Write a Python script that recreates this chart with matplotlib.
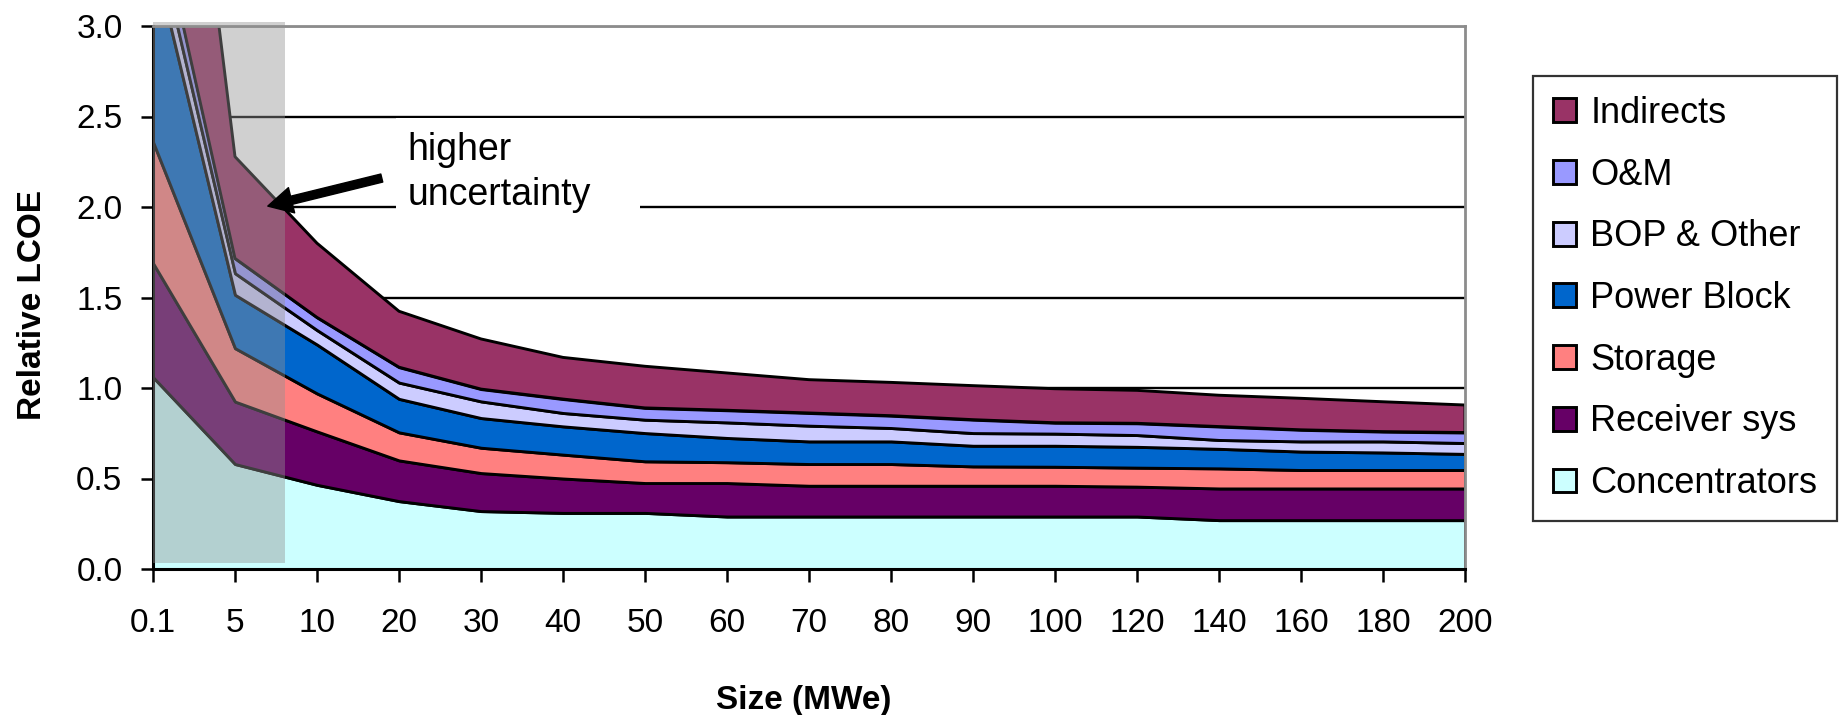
import numpy as np
import matplotlib
matplotlib.use("Agg")
import matplotlib.pyplot as plt
from matplotlib.patches import Rectangle

plt.rcParams["font.family"] = ["Liberation Sans", "DejaVu Sans"]

# plant size categories (MWe)
sizes = ["0.1", "5", "10", "20", "30", "40", "50", "60", "70", "80",
         "90", "100", "120", "140", "160", "180", "200"]

# relative LCOE contribution of each cost component (stacked bottom -> top)
concentrators = [1.06, 0.58, 0.465, 0.375, 0.32, 0.31, 0.31, 0.29, 0.29, 0.29,
                 0.29, 0.29, 0.29, 0.27, 0.27, 0.27, 0.27]
receiver_sys = [0.63, 0.345, 0.295, 0.225, 0.21, 0.19, 0.165, 0.185, 0.17, 0.17,
                0.17, 0.17, 0.165, 0.175, 0.175, 0.175, 0.175]
storage = [0.67, 0.295, 0.21, 0.155, 0.14, 0.132, 0.12, 0.115, 0.12, 0.12,
           0.107, 0.105, 0.105, 0.111, 0.102, 0.102, 0.102]
power_block = [1.04, 0.295, 0.27, 0.185, 0.164, 0.156, 0.156, 0.134, 0.125, 0.125,
               0.114, 0.116, 0.115, 0.108, 0.102, 0.097, 0.089]
bop_other = [0.17, 0.119, 0.08, 0.09, 0.092, 0.074, 0.074, 0.086, 0.087, 0.074,
             0.07, 0.067, 0.065, 0.049, 0.056, 0.061, 0.06]
o_and_m = [0.18, 0.082, 0.07, 0.085, 0.068, 0.077, 0.065, 0.067, 0.07, 0.068,
           0.074, 0.06, 0.065, 0.074, 0.064, 0.054, 0.058]
indirects = [2.22, 0.562, 0.41, 0.309, 0.277, 0.23, 0.23, 0.206, 0.184, 0.184,
             0.188, 0.188, 0.182, 0.173, 0.174, 0.165, 0.152]

names = ["Concentrators", "Receiver sys", "Storage", "Power Block",
         "BOP & Other", "O&M", "Indirects"]
colors = ["#CCFFFF", "#660066", "#FF8080", "#0066CC",
          "#CCCCFF", "#9999FF", "#993366"]

W, H = 1840, 715
fig = plt.figure(figsize=(W / 100, H / 100), dpi=100)
ax = fig.add_axes([153 / W, 1 - 569 / H, 1312 / W, 543 / H])

x = np.arange(len(sizes))
polys = ax.stackplot(x, concentrators, receiver_sys, storage, power_block,
                     bop_other, o_and_m, indirects, colors=colors,
                     labels=names, edgecolor="black", linewidth=2.1, zorder=2)

ax.set_xlim(0, len(sizes) - 1)
ax.set_ylim(0, 3)
ax.set_xticks(x)
ax.set_xticklabels(sizes)
yt = np.arange(0, 3.01, 0.5)
ax.set_yticks(yt)
ax.set_yticklabels([f"{v:.1f}" for v in yt])
ax.tick_params(axis="both", direction="out", length=9, width=1.8,
               labelsize=24, color="black")
ax.tick_params(axis="x", pad=19)
ax.tick_params(axis="y", pad=13)

ax.set_axisbelow(True)
ax.yaxis.grid(True, color="black", linewidth=1.7)
for s in ("left", "bottom"):
    ax.spines[s].set_linewidth(2.2)
    ax.spines[s].set_color("black")
for s in ("top", "right"):
    ax.spines[s].set_linewidth(2.0)
    ax.spines[s].set_color("#8C8C8C")

ax.text(-0.092, 0.486, "Relative LCOE", transform=ax.transAxes, rotation=90,
        ha="center", va="center", fontsize=24, fontweight="bold")
fig.text(804 / W, 1 - 700 / H, "Size (MWe)", ha="center", va="center",
         fontsize=24, fontweight="bold")

# shaded zone for the small-plant range
ax.add_patch(Rectangle((0, 0.033), 1.61, 2.99, facecolor="#929292", alpha=0.43,
                       edgecolor="none", zorder=5, clip_on=False))

# annotation with a white backing that hides the gridline behind it
ax.add_patch(Rectangle((2.96, 1.96), 2.98, 0.53, facecolor="white",
                       edgecolor="none", zorder=1.5))
ax.text(3.1, 2.19, "higher\nuncertainty", fontsize=27, ha="left", va="center",
        linespacing=1.3, zorder=6)
ax.annotate("", xy=(1.40, 2.005), xytext=(2.79, 2.16),
            arrowprops=dict(arrowstyle="simple,head_length=0.8,head_width=0.85,tail_width=0.27",
                            fc="black", ec="black", mutation_scale=22,
                            shrinkA=0, shrinkB=0),
            zorder=6)

handles = list(polys)[::-1]
leg = fig.legend(handles, names[::-1], loc="upper left",
                 bbox_to_anchor=(1533 / W, 1 - 76 / H), fontsize=26,
                 frameon=True, fancybox=False, edgecolor="black",
                 handlelength=0.64, handleheight=0.64, handletextpad=0.4,
                 labelspacing=0.74, borderpad=0.55, borderaxespad=0)
leg.get_frame().set_linewidth(1.6)

fig.savefig("out.png", dpi=100)
